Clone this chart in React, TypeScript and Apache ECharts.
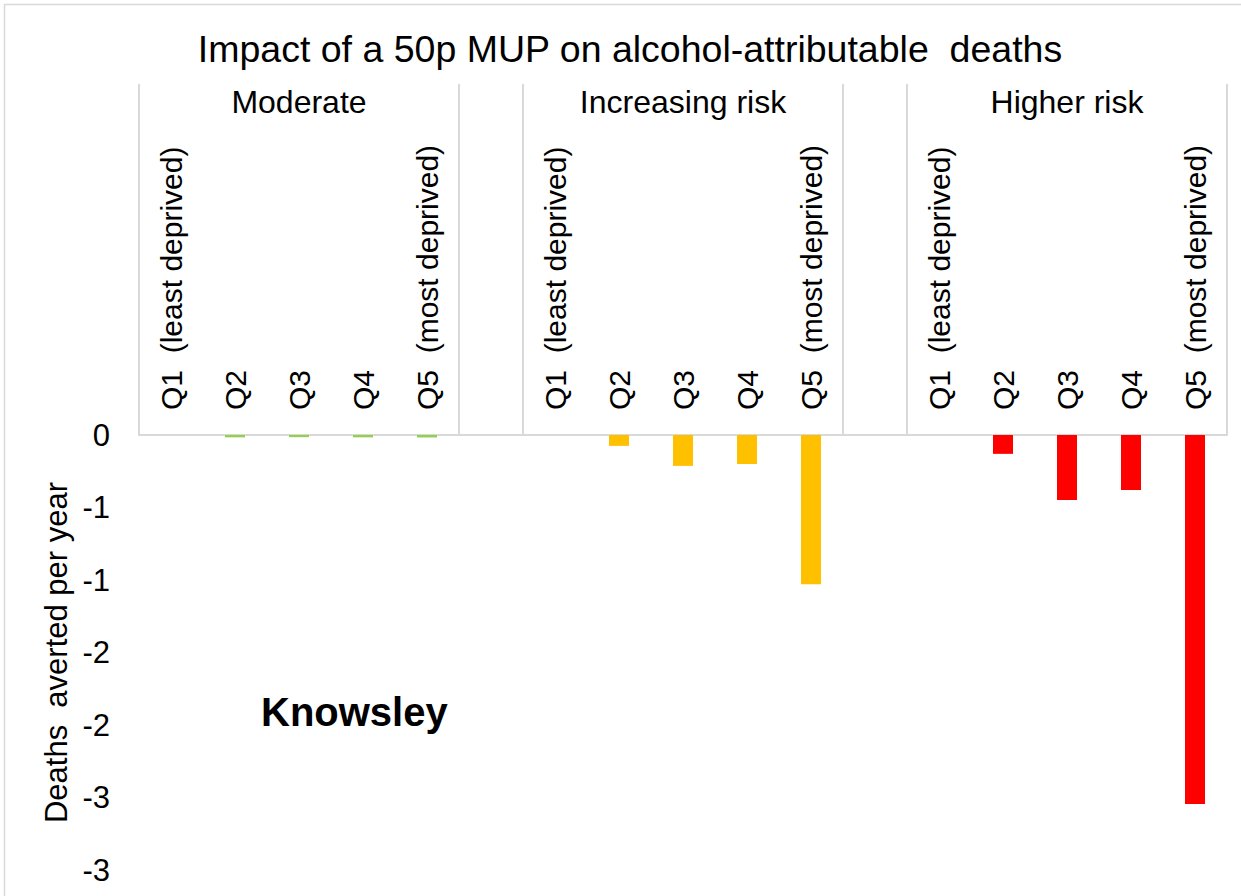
import React, { useEffect, useRef } from "react";
import * as echarts from "echarts";

// ---- data ----
const chartTitle = "Impact of a 50p MUP on alcohol-attributable  deaths";
const yAxisTitle = "Deaths  averted per year";
const areaLabel = "Knowsley";
const groups = ["Moderate", "Increasing risk", "Higher risk"];
const quintiles = ["Q1  (least deprived)", "Q2", "Q3", "Q4", "Q5  (most deprived)"];
const moderate = [0, -0.016, -0.015, -0.016, -0.017];
const increasingRisk = [0, -0.075, -0.213, -0.2, -1.03];
const higherRisk = [0, -0.13, -0.448, -0.38, -2.545];
const groupValues = [moderate, increasingRisk, higherRisk];
const groupColors = ["#92D050", "#FFC000", "#FF0000"];
const yMin = -3;
const yMax = 0;
const yStep = 0.5;

const FONT = '"Liberation Sans", Arial, sans-serif';

// category keys: 5 quintiles per group with one empty slot between groups
const categoryKeys: string[] = [];
const categoryLabels: string[] = [];
const categoryGroup: number[] = [];
groups.forEach((g, gi) => {
  quintiles.forEach((q, qi) => {
    categoryKeys.push(`${gi}|${qi}`);
    categoryLabels.push(q);
    categoryGroup.push(gi);
  });
  if (gi < groups.length - 1) {
    categoryKeys.push(`gap${gi}`);
    categoryLabels.push("");
    categoryGroup.push(-1);
  }
});

const GROUP_SIZE = quintiles.length + 1;

function seriesData(gi: number) {
  return categoryKeys.map((_, idx) => {
    if (categoryGroup[idx] !== gi) return null;
    const qi = idx - gi * GROUP_SIZE;
    return groupValues[gi][qi];
  });
}

function yLabel(v: number) {
  if (v === 0) return "0";
  return (v < 0 ? "-" : "") + Math.round(Math.abs(v));
}

export default function App() {
  const ref = useRef<HTMLDivElement>(null);
  useEffect(() => {
    if (!ref.current) return;
    const chart = echarts.init(ref.current, null, { renderer: "svg" });
    const gridLine = "#d9d9d9";
    chart.setOption({
      animation: false,
      backgroundColor: "#ffffff",
      textStyle: { fontFamily: FONT },
      grid: {
        left: 139,
        right: 14,
        top: 435,
        bottom: 26,
        containLabel: false,
        outerBoundsMode: "none",
      },
      xAxis: [
        {
          type: "category",
          position: "top",
          data: categoryKeys,
          boundaryGap: true,
          axisLine: { show: true, lineStyle: { color: gridLine, width: 2 } },
          axisTick: {
            show: true,
            inside: false,
            length: 351,
            interval: (index: number) => index % GROUP_SIZE === 0 || index % GROUP_SIZE === GROUP_SIZE - 1,
            lineStyle: { color: gridLine, width: 2 },
          },
          axisLabel: {
            interval: 0,
            rotate: 90,
            margin: 25,
            fontSize: 30,
            color: "#000",
            fontFamily: FONT,
            formatter: (_v: string, idx: number) => categoryLabels[idx],
          },
          splitLine: { show: false },
        },
        {
          type: "category",
          position: "top",
          data: categoryKeys,
          boundaryGap: true,
          axisLine: { show: false },
          axisTick: { show: false },
          splitLine: { show: false },
          axisLabel: {
            interval: 0,
            margin: 333,
            verticalAlign: "middle",
            fontSize: 32,
            color: "#000",
            fontFamily: FONT,
            formatter: (_v: string, idx: number) =>
              idx % GROUP_SIZE === 2 ? groups[Math.floor(idx / GROUP_SIZE)] : "",
          },
        },
      ],
      yAxis: {
        type: "value",
        min: yMin,
        max: yMax,
        interval: yStep,
        axisLine: { show: false },
        axisTick: { show: false },
        splitLine: { show: false },
        axisLabel: {
          margin: 29,
          fontSize: 31,
          color: "#000",
          fontFamily: FONT,
          formatter: (v: number) => yLabel(v),
        },
        name: yAxisTitle,
        nameLocation: "middle",
        nameRotate: 90,
        nameGap: 81,
        nameTextStyle: {
          fontSize: 31,
          color: "#000",
          fontFamily: FONT,
          verticalAlign: "middle",
        },
      },
      series: groups.map((g, gi) => ({
        name: g,
        type: "bar",
        xAxisIndex: 0,
        data: seriesData(gi),
        barWidth: 20,
        barGap: "-100%",
        itemStyle: { color: groupColors[gi] },
      })),
      graphic: [
        {
          type: "rect",
          shape: { x: 4.5, y: 4.5, width: 1400, height: 1000 },
          style: { fill: "none", stroke: gridLine, lineWidth: 1.5 },
          silent: true,
        },
        {
          type: "text",
          x: 630,
          y: 48.5,
          style: {
            text: chartTitle,
            fontSize: 37.5,
            fontFamily: FONT,
            fill: "#000",
            align: "center",
            verticalAlign: "middle",
          },
        },
        {
          type: "text",
          x: 261,
          y: 712,
          style: {
            text: areaLabel,
            fontSize: 40,
            fontWeight: "bold",
            fontFamily: FONT,
            fill: "#000",
            align: "left",
            verticalAlign: "middle",
          },
        },
      ],
    });
    return () => chart.dispose();
  }, []);
  return (
    <div
      ref={ref}
      style={{ position: "absolute", left: 0, top: 0, width: 1241, height: 896, background: "#fff" }}
    />
  );
}
